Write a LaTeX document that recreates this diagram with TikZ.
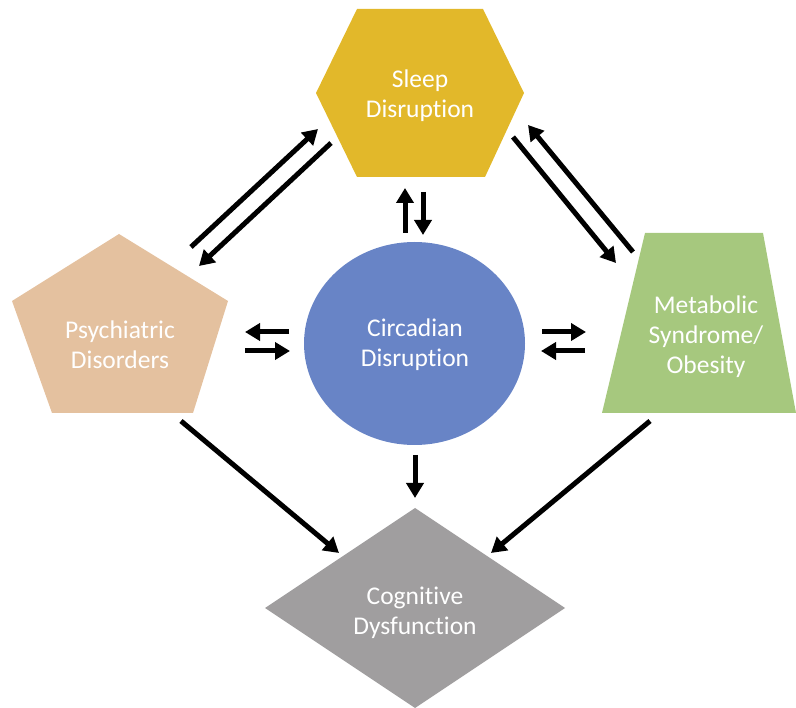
\documentclass[tikz,border=0pt]{standalone}
\usepackage{fontspec}
\setmainfont[Ligatures=NoCommon]{Carlito}
\usetikzlibrary{arrows.meta}
\definecolor{sleepcol}{RGB}{226,184,42}
\definecolor{psycol}{RGB}{228,193,159}
\definecolor{circcol}{RGB}{104,132,198}
\definecolor{metacol}{RGB}{166,200,126}
\definecolor{cogcol}{RGB}{160,158,159}

\begin{document}
\begin{tikzpicture}[x=1pt, y=-1pt,
  lbl/.style={text=white, align=center, font=\fontsize{25.5}{30}\selectfont},
  arr/.style={line width=5pt, -{Triangle[length=15pt,width=17pt]}}]
\useasboundingbox (0,0) rectangle (796,708);
    \fill[sleepcol] (357,9) -- (483,9) -- (524,93) -- (485,177) -- (357,177) -- (316,93) -- cycle; %hexagon
    \fill[psycol] (119,234) -- (228,301) -- (193,413) -- (52,413) -- (12,301) -- cycle; %pentagon
    \fill[circcol] (414.5,343.5) ellipse [x radius=110.5, y radius=101.5]; %circle
    \fill[metacol] (645,233) -- (763,233) -- (796,413) -- (602,413) -- cycle; %trapezoid
    \fill[cogcol] (415,508) -- (565,608) -- (415,708) -- (265,608) -- cycle; %diamond

     \node[lbl] (sleep) at (420,96) {Sleep\\Disruption};
     \node[lbl] (psy) at (120,345) {Psychiatric\\Disorders};
     \node[lbl] (circ) at (415,345) {Circadian\\Disruption};
     \node[lbl] (meta) at (706,337) {Metabolic\\Syndrome/\\Obesity};
     \node[lbl] (cog) at (415,613) {Cognitive\\Dysfunction};

    % psychiatric -- sleep
    \coordinate (P1) at (191,247); \coordinate (S1) at (318,129);
    \coordinate (S2) at (331,143); \coordinate (P2) at (199,266);
        \draw[arr] (P1) -- (S1); %PS
        \draw[arr] (S2) -- (P2); %SP
    % sleep -- metabolic
    \coordinate (S3) at (513,137); \coordinate (M1) at (616,263);
    \coordinate (M2) at (633,252); \coordinate (S4) at (528,125);
        \draw[arr] (S3) -- (M1); %SM
        \draw[arr] (M2) -- (S4); %MS
    % sleep -- circadian
    \coordinate (C1) at (405,233); \coordinate (S5) at (405,188);
    \coordinate (S6) at (423,192); \coordinate (C2) at (423,235);
        \draw[arr] (C1) -- (S5); %CS
        \draw[arr] (S6) -- (C2); %SC
    % psychiatric -- circadian
    \coordinate (C3) at (289,332); \coordinate (P3) at (245,332);
    \coordinate (P4) at (245,351); \coordinate (C4) at (290,351);
        \draw[arr] (C3) -- (P3); %CP
        \draw[arr] (P4) -- (C4); %PC
    % circadian -- metabolic
    \coordinate (C5) at (542,332); \coordinate (M3) at (586,332);
    \coordinate (M4) at (585,351); \coordinate (C6) at (541,351);
        \draw[arr] (C5) -- (M3); %CM
        \draw[arr] (M4) -- (C6); %MC
    % into cognitive
    \coordinate (C7) at (415,455); \coordinate (G1) at (415,498);
    \coordinate (P5) at (181,421); \coordinate (G2) at (339,553);
    \coordinate (M5) at (650,421); \coordinate (G3) at (491,553);
        \draw[arr] (C7) -- (G1); %CG
        \draw[arr] (P5) -- (G2); %PG
        \draw[arr] (M5) -- (G3); %MG
\end{tikzpicture}
\end{document}
